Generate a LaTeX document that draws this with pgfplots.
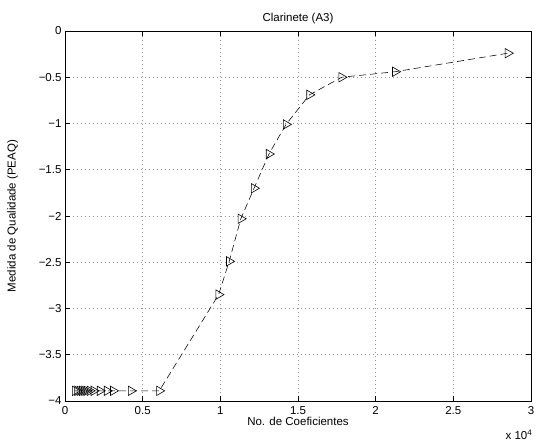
\documentclass[border=0pt]{standalone}
\usepackage{fontspec}
\setmainfont{Liberation Sans}
\usepackage{pgfplots}
\pgfplotsset{compat=1.18}
\begin{document}
\begin{tikzpicture}
\path[use as bounding box] (-65pt,-46pt) rectangle (471pt,401pt);
\begin{axis}[
  name=ax,
  scale only axis,
  width=466pt, height=370pt,
  at={(0,0)}, anchor=south west,
  xmin=0, xmax=30000, ymin=-4, ymax=0,
  xtick={0,5000,10000,15000,20000,25000,30000},
  xticklabels={0,0.5,1,1.5,2,2.5,3},
  ytick={-4,-3.5,-3,-2.5,-2,-1.5,-1,-0.5,0},
  yticklabels={−4,−3.5,−3,−2.5,−2,−1.5,−1,−0.5,0},
  scaled x ticks=false,
  tick align=inside,
  major tick length=5pt,
  tick style={black, line width=0.5pt},
  axis line style={black, line width=0.8pt},
  grid=major,
  major grid style={dash pattern=on 0.8pt off 3.2pt, gray!85, line width=0.6pt},
  ticklabel style={font=\fontsize{11.5}{13}\selectfont},
  xticklabel style={yshift=-2pt},
  label style={font=\fontsize{11.5}{13}\selectfont},
  title style={font=\fontsize{11.5}{13}\selectfont, yshift=-2pt},
  title={Clarinete (A3)},
  xlabel={No. de Coeficientes},
  ylabel={Medida de Qualidade (PEAQ)},
  xlabel style={yshift=4pt},
  ylabel style={yshift=14pt},
]
\addplot[black, line width=0.55pt, dash pattern=on 7pt off 4pt,
  mark=triangle, mark size=5.4pt,
  mark options={solid, rotate=-90, draw=black, fill=none, line width=0.6pt}]
coordinates {
(650,-3.89) (800,-3.89) (950,-3.89) (1100,-3.89) (1250,-3.89) (1400,-3.89)
(1600,-3.89) (1850,-3.89) (2250,-3.89) (2700,-3.89) (3100,-3.89) (4250,-3.89)
(6070,-3.89) (9890,-2.85) (10570,-2.49) (11320,-2.03) (12170,-1.70)
(13130,-1.33) (14230,-1.01) (15740,-0.69) (17810,-0.50) (21260,-0.44)
(28510,-0.24)
};
\end{axis}
\node[anchor=north east, font=\fontsize{11.5}{13}\selectfont, inner sep=0pt]
  at ([xshift=1pt, yshift=-29pt]ax.south east) {x 10\raisebox{0.6ex}{\fontsize{8}{9}\selectfont 4}};
\end{tikzpicture}
\end{document}
